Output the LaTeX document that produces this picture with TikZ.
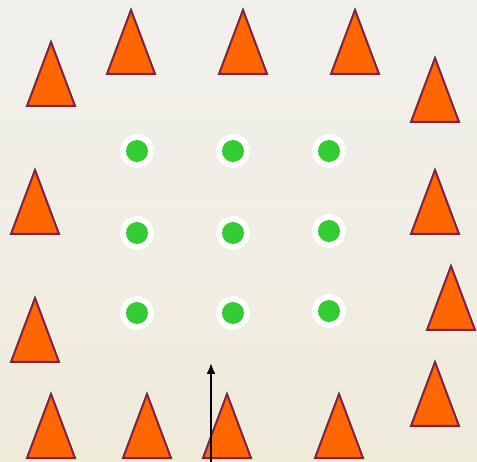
\documentclass[tikz,border=0pt]{standalone}
\usetikzlibrary{arrows.meta}
\definecolor{bgtop}{HTML}{F1F0EC}
\definecolor{bgbot}{HTML}{EFEBDB}
\definecolor{conefill}{HTML}{FF6600}
\definecolor{coneline}{HTML}{7D2249}
\definecolor{dotgreen}{HTML}{33CC33}
\tikzset{
  cone/.pic={\draw[fill=conefill,draw=coneline,line width=2pt,line join=miter] (-24,0)--(0,64)--(24,0)--cycle;},
  spot/.pic={\fill[white] (0,0) circle (17); \fill[dotgreen] (0,0) circle (11);},
  arrowline/.style={line width=2pt,-{Latex[length=11pt,width=9pt]}}
}
\begin{document}
\begin{tikzpicture}[x=1pt,y=1pt]
\shade[top color=bgtop,bottom color=bgbot] (0,0) rectangle (477,461);
\useasboundingbox (0,0) rectangle (477,461);
\foreach \x/\y in {51/355,131/387,243/387,355/387,435/339,35/227,435/227,35/99,451/131,435/35,51/3,147/3,227/3,339/3}
  \pic at (\x,\y) {cone};
\foreach \x/\y in {137/310,233/310,329/310,137/228,233/228,329/230,137/148,233/148,329/150}
  \pic at (\x,\y) {spot};
\coordinate (start) at (211,-2);
\coordinate (tip) at (211,98);
\draw[arrowline] (start) -- (tip);
\end{tikzpicture}
\end{document}
